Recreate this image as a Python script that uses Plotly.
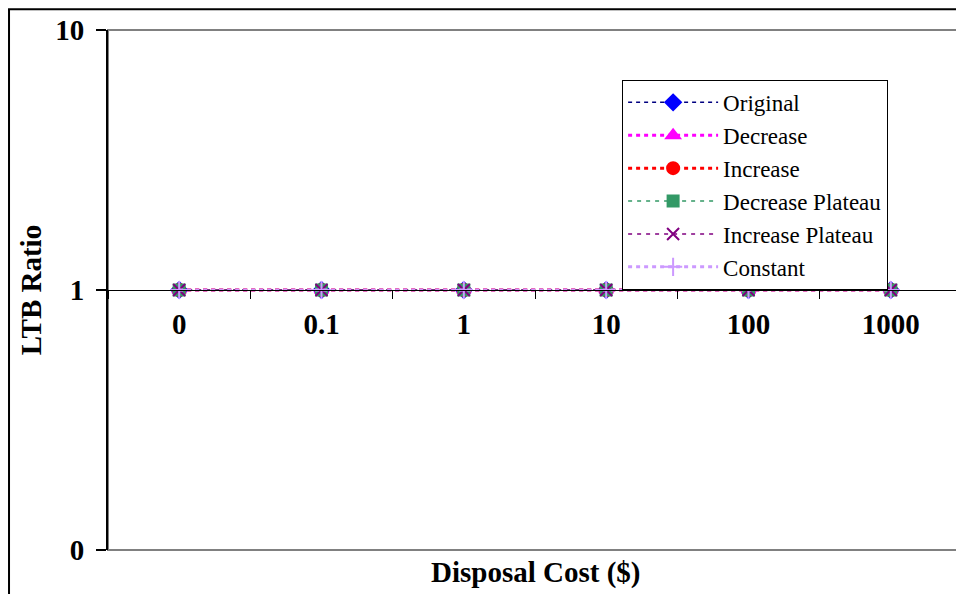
import plotly.graph_objects as go

# disposal cost categories (x) and the LTB ratio for each demand pattern
costs = ['0', '0.1', '1', '10', '100', '1000']
original = [1, 1, 1, 1, 1, 1]
decrease = [1, 1, 1, 1, 1, 1]
increase = [1, 1, 1, 1, 1, 1]
decrease_plateau = [1, 1, 1, 1, 1, 1]
increase_plateau = [1, 1, 1, 1, 1, 1]
constant = [1, 1, 1, 1, 1, 1]

y_ticks = [0.1, 1, 10]
y_tick_text = ['0', '1', '10']

serif = 'Liberation Serif, Times New Roman, serif'

# name, values, line colour, marker colour, symbol, dash, line width, marker size
series = [
    ('Original', original, '#000080', '#0000ff', 'diamond', '4px,4px', 1.5, 12),
    ('Decrease', decrease, '#ff00ff', '#ff00ff', 'triangle-up', '4px,4px', 3, 12),
    ('Increase', increase, '#ff0000', '#ff0000', 'circle', '4px,4px', 3, 12),
    ('Decrease Plateau', decrease_plateau, '#339966', '#339966', 'square', '4px,5px', 1.5, 11),
    ('Increase Plateau', increase_plateau, '#800080', '#800080', 'x-thin-open', '4px,5px', 1.5, 12),
    ('Constant', constant, '#cc99ff', '#cc99ff', 'cross-thin-open', '4px,4px', 3, 13),
]

fig = go.Figure()

for name, vals, lcol, mcol, sym, dash, lw, ms in series:
    fig.add_trace(go.Scatter(
        x=costs, y=vals, name=name, mode='lines+markers',
        line=dict(color=lcol, width=lw, dash=dash),
        marker=dict(symbol=sym, color=mcol, size=ms,
                    line=dict(color=mcol, width=2)),
    ))

# the page body adds an 8px offset, so the figure is sized a bit smaller
fig.update_layout(
    width=956, height=586,
    margin=dict(l=100, r=2, t=22, b=44),
    paper_bgcolor='white', plot_bgcolor='white',
    font=dict(family=serif, color='black'),
    showlegend=True,
    legend=dict(
        x=0.602, y=0.904, xanchor='left', yanchor='top',
        bgcolor='white', bordercolor='black', borderwidth=1,
        font=dict(family=serif, size=23, color='black'),
        itemwidth=90, tracegroupgap=0, entrywidth=290,
    ),
    xaxis=dict(
        type='category', range=[-0.5, 5.5],
        anchor='free', position=0.5,
        showline=True, linecolor='black', linewidth=1,
        ticks='outside', tickson='boundaries', ticklen=8, tickcolor='black',
        tickfont=dict(family=serif, size=29, weight='bold', color='black'),
        ticklabelstandoff=8,
        showgrid=False, zeroline=False,
    ),
    yaxis=dict(
        type='log', range=[-1, 1], domain=[0, 1],
        tickvals=y_ticks, ticktext=y_tick_text,
        showline=True, linecolor='black', linewidth=2,
        ticks='outside', ticklen=10, tickcolor='black', tickwidth=1.5,
        tickfont=dict(family=serif, size=29, weight='bold', color='black'),
        ticklabelstandoff=6,
        showgrid=False, zeroline=False,
    ),
    shapes=[
        # plot area frame
        dict(type='rect', xref='paper', yref='paper', x0=0, x1=1, y0=0, y1=1,
             line=dict(color='#808080', width=2), layer='below'),
        # chart outer border (left and top visible)
        dict(type='rect', xref='paper', yref='paper', x0=-0.1159, x1=1.2, y0=-0.3, y1=1.040,
             line=dict(color='black', width=2), layer='below'),
    ],
    annotations=[
        dict(text='<b>Disposal Cost ($)</b>', xref='paper', yref='paper',
             x=0.5, y=-0.044, xanchor='center', yanchor='middle', showarrow=False,
             font=dict(family=serif, size=29, color='black')),
        dict(text='<b>LTB Ratio</b>', xref='paper', yref='paper',
             x=-0.090, y=0.5, xanchor='center', yanchor='middle', showarrow=False,
             textangle=-90, font=dict(family=serif, size=29, color='black')),
    ],
)

fig.write_html('out.html')
